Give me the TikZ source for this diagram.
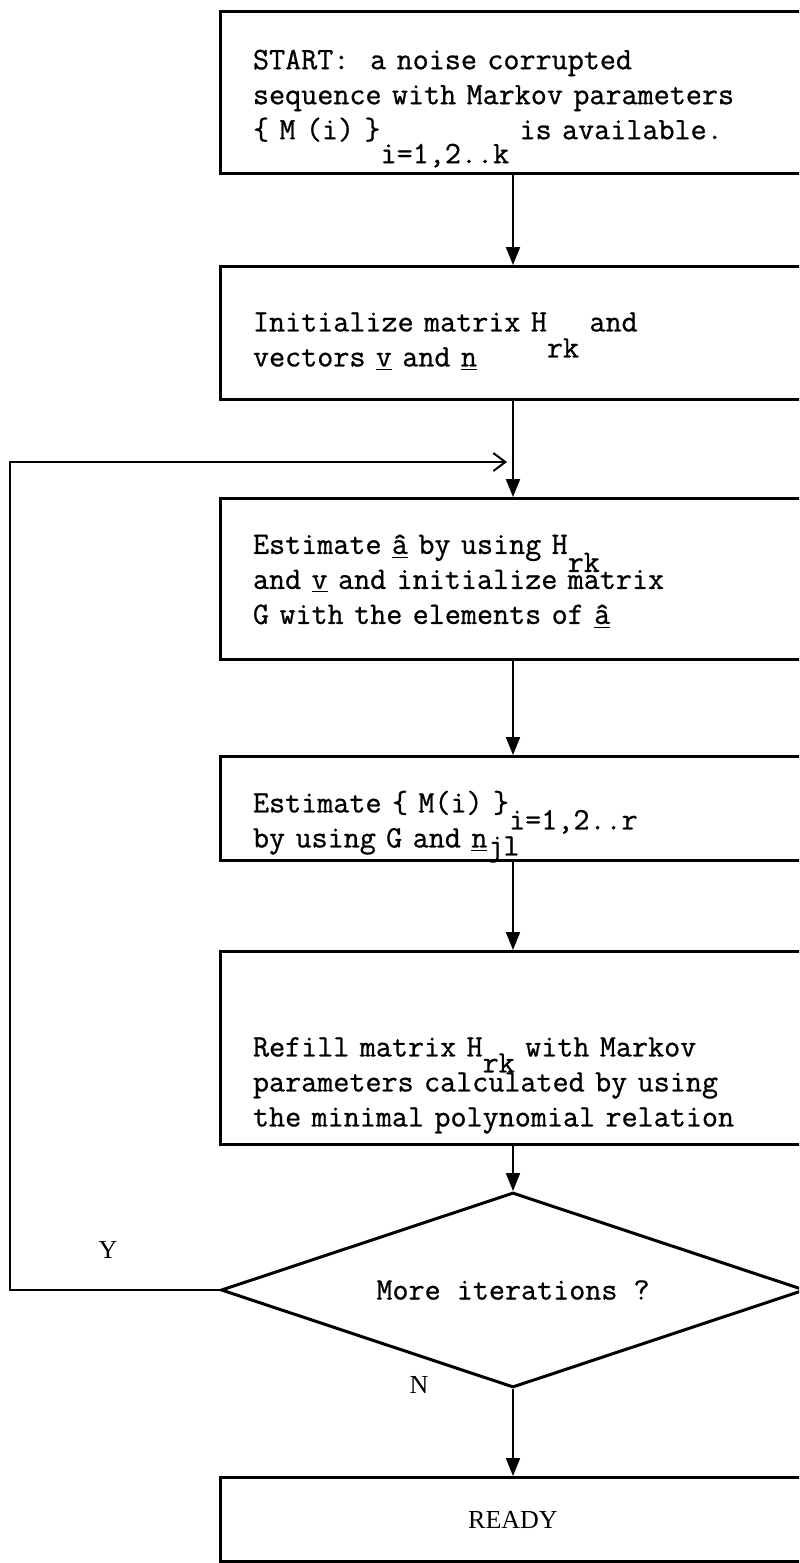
\documentclass[tikz,border=0pt]{standalone}
\usepackage{fontspec}
\newfontfamily\typewriter{Latin Modern Mono}[FakeBold=0.8]
\newfontfamily\labelfont{Liberation Serif}
\usetikzlibrary{arrows.meta,shapes.geometric}

% lowered index as typed on the original sheet
\newcommand{\lowidx}[2][12pt]{\smash{\raisebox{-#1}{#2}}}

\begin{document}
\begin{tikzpicture}[x=0.5pt, y=-0.5pt,
    stepbox/.style={rectangle, draw, line width=1.5pt, anchor=north, inner xsep=16.5pt, inner ysep=0pt,
        text width=260pt, align=left, font=\typewriter\fontsize{15.6}{17.5}\selectfont},
    lower text/.style={execute at begin node={\rule{0pt}{#1}}},
    decision/.style={diamond, draw, line width=1.5pt, minimum width=292pt, minimum height=97.5pt,
        inner sep=0pt, aspect=3, font=\typewriter\fontsize{15.6}{17.5}\selectfont},
    flow/.style={-{Triangle[length=9pt, width=7pt]}, line width=1pt},
    back/.style={-{Straight Barb[length=6pt, width=9pt]}, line width=1pt, shorten >=3pt},
    yn/.style={font=\labelfont\fontsize{13}{15}\selectfont}
]
\useasboundingbox (0,0) rectangle (799,1563);
\clip (0,0) rectangle (799,1563);

% Boxes
\node[stepbox, minimum height=81pt, lower text=13pt] (start) at (513,10)
    {START:\ \ a noise corrupted\\ sequence with Markov parameters\\ \{ M (i) \}\lowidx{i=1,2..k} is available.};
\node[stepbox, minimum height=66.5pt, lower text=18pt] (init) at (513,265)
    {Initialize matrix H\lowidx[13pt]{rk} and\\ vectors \underline{v} and \underline{n}};
\node[stepbox, minimum height=80.5pt, lower text=12pt] (esta) at (513,497)
    {Estimate \underline{\^a} by using H\lowidx[9pt]{rk}\\ and \underline{v} and initialize matrix\\ G with the elements of \underline{\^a}};
\node[stepbox, minimum height=52pt, lower text=25pt] (estm) at (513,755)
    {Estimate \{ M(i) \}\lowidx[8.5pt]{i=1,2..r}\\ by using G and \underline{n}\lowidx[4pt]{jl}};
\node[stepbox, minimum height=96.5pt, lower text=47pt] (refill) at (513,950)
    {Refill matrix H\lowidx[8pt]{rk} with Markov\\ parameters calculated by using\\ the minimal polynomial relation};
\node[decision] (iter) at (513,1290) {More iterations ?};
\node[stepbox, minimum height=42pt, align=center, font=\labelfont\fontsize{13}{15}\selectfont] (ready) at (513,1476) {READY};

% Labels
\node[yn] (ylab) at (108,1250) {Y};
\node[yn] (nlab) at (419,1385) {N};

% Arrows
\coordinate (join) at (513,462);
\draw[flow] (start) -- (init);
\draw[flow] (init) -- (esta);
\draw[flow] (esta) -- (estm);
\draw[flow] (estm) -- (refill);
\draw[flow] (refill) -- (iter);
\draw[flow] (iter) -- (ready);
\draw[back] (iter.west) -- ++(-210,0) |- (join);

\end{tikzpicture}
\end{document}
